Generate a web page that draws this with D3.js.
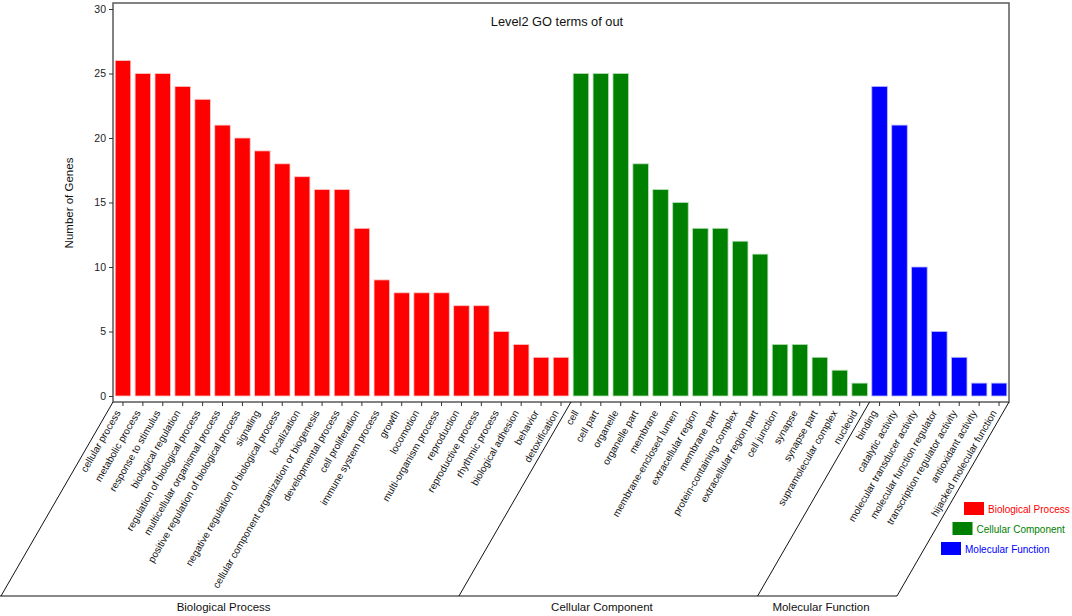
<!DOCTYPE html>
<html>
<head>
<meta charset="utf-8">
<script src="https://cdn.jsdelivr.net/npm/d3@7"></script>
<style>
  body { margin: 0; background: #fff; }
  svg { display: block; font-family: "Liberation Sans", Arial, sans-serif; }
</style>
</head>
<body>
<div id="chart"></div>
<script>
// GO term names and gene counts, per ontology
const bpTerms = ["cellular process", "metabolic process", "response to stimulus", "biological regulation",
  "regulation of biological process", "multicellular organismal process", "positive regulation of biological process",
  "signaling", "negative regulation of biological process", "localization",
  "cellular component organization or biogenesis", "developmental process", "cell proliferation",
  "immune system process", "growth", "locomotion", "multi-organism process", "reproduction",
  "reproductive process", "rhythmic process", "biological adhesion", "behavior", "detoxification"];
const bpCounts = [26, 25, 25, 24, 23, 21, 20, 19, 18, 17, 16, 16, 13, 9, 8, 8, 8, 7, 7, 5, 4, 3, 3];

const ccTerms = ["cell", "cell part", "organelle", "organelle part", "membrane", "membrane-enclosed lumen",
  "extracellular region", "membrane part", "protein-containing complex", "extracellular region part",
  "cell junction", "synapse", "synapse part", "supramolecular complex", "nucleoid"];
const ccCounts = [25, 25, 25, 18, 16, 15, 13, 13, 12, 11, 4, 4, 3, 2, 1];

const mfTerms = ["binding", "catalytic activity", "molecular transducer activity", "molecular function regulator",
  "transcription regulator activity", "antioxidant activity", "hijacked molecular function"];
const mfCounts = [24, 21, 10, 5, 3, 1, 1];

const groupNames = ["Biological Process", "Cellular Component", "Molecular Function"];
const groupColors = ["#ff0000", "#008000", "#0000ff"];
const groupStrokes = ["#ffc8c8", "#b8e0b8", "#b8b8ff"];
const yTicks = [0, 5, 10, 15, 20, 25, 30];

const width = 1072, height = 616;
const plotLeft = 113, plotRight = 1009, plotTop = 3, axisY = 402, baseY = 596;
const slant = 1 / Math.tan(Math.PI / 3); // 60 degree diagonals

const rows = [];
[[bpTerms, bpCounts], [ccTerms, ccCounts], [mfTerms, mfCounts]].forEach(([terms, counts], g) => {
  terms.forEach((t, i) => rows.push({ term: t, value: counts[i], group: g }));
});

const svg = d3.select("#chart").append("svg")
  .attr("width", width).attr("height", height);

const x = d3.scaleBand()
  .domain(rows.map(d => d.term))
  .range([plotLeft, plotRight])
  .paddingInner(0.22)
  .paddingOuter(0.11);

const y = d3.scaleLinear().domain([0, 30]).range([396, 9]);

// bars
svg.append("g").selectAll("rect")
  .data(rows)
  .join("rect")
  .attr("x", d => x(d.term))
  .attr("y", d => y(d.value))
  .attr("width", x.bandwidth())
  .attr("height", d => y(0) - y(d.value))
  .attr("fill", d => groupColors[d.group])
  .attr("stroke", d => groupStrokes[d.group])
  .attr("stroke-width", 0.8);

// frame
svg.append("rect")
  .attr("x", plotLeft).attr("y", plotTop)
  .attr("width", plotRight - plotLeft).attr("height", axisY - plotTop)
  .attr("fill", "none")
  .attr("stroke", "#5a5a5a")
  .attr("stroke-width", 1.5);

// y axis
const yAxis = svg.append("g")
  .attr("transform", `translate(${plotLeft},0)`)
  .call(d3.axisLeft(y).tickValues(yTicks).tickSize(4).tickPadding(3));
yAxis.select(".domain").remove();
yAxis.selectAll("line").attr("stroke", "#333");
yAxis.selectAll("text").attr("font-size", 10.5).attr("fill", "#222")
  .attr("font-family", "Liberation Sans, Arial, sans-serif");

svg.append("text")
  .attr("transform", "translate(73,203) rotate(-90)")
  .attr("text-anchor", "middle")
  .attr("font-size", 11.5)
  .attr("fill", "#111")
  .text("Number of Genes");

svg.append("text")
  .attr("x", 557).attr("y", 26)
  .attr("text-anchor", "middle")
  .attr("font-size", 12.8)
  .attr("fill", "#111")
  .text("Level2 GO terms of out");

// x ticks and labels
const xt = svg.append("g");
xt.selectAll("line")
  .data(rows)
  .join("line")
  .attr("x1", d => x(d.term) + x.bandwidth() / 2)
  .attr("x2", d => x(d.term) + x.bandwidth() / 2)
  .attr("y1", axisY).attr("y2", axisY + 4)
  .attr("stroke", "#333");

xt.selectAll("text")
  .data(rows)
  .join("text")
  .attr("transform", d => `translate(${x(d.term) + x.bandwidth() / 2 - 5},${axisY + 9}) rotate(-60)`)
  .attr("text-anchor", "end")
  .attr("dy", "0.35em")
  .attr("font-size", 10)
  .attr("fill", "#111")
  .text(d => d.term);

// group dividers
const counts = [bpTerms.length, ccTerms.length, mfTerms.length];
const bounds = [plotLeft];
let acc = 0;
counts.forEach(c => { acc += c; bounds.push(acc === rows.length ? plotRight : plotLeft + x.step() * acc); });

const lines = svg.append("g").attr("stroke", "#111").attr("stroke-width", 1);
bounds.forEach(b => {
  lines.append("line")
    .attr("x1", b).attr("y1", axisY)
    .attr("x2", b - (baseY - axisY) * slant).attr("y2", baseY);
});
lines.append("line")
  .attr("x1", 0).attr("y1", baseY)
  .attr("x2", plotRight - (baseY - axisY) * slant).attr("y2", baseY);

groupNames.forEach((name, g) => {
  const mid = (bounds[g] + bounds[g + 1]) / 2 - (607 - axisY) * slant;
  svg.append("text")
    .attr("x", mid).attr("y", 611)
    .attr("text-anchor", "middle")
    .attr("font-size", 11.5)
    .attr("fill", "#111")
    .text(name);
});

// legend
const legend = svg.append("g");
groupNames.forEach((name, g) => {
  const lx = 964 - g * 11.5, ly = 502 + g * 20;
  legend.append("rect")
    .attr("x", lx).attr("y", ly)
    .attr("width", 20).attr("height", 13)
    .attr("fill", groupColors[g]);
  legend.append("text")
    .attr("x", lx + 24).attr("y", ly + 10.5)
    .attr("font-size", 10)
    .attr("fill", groupColors[g])
    .text(name);
});
</script>
</body>
</html>
